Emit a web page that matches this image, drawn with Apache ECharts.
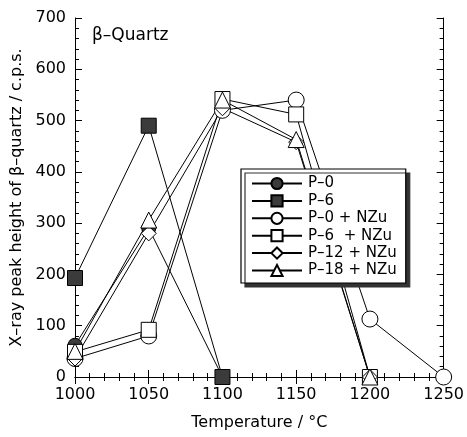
<!DOCTYPE html>
<html>
<head>
<meta charset="utf-8">
<script src="https://cdn.jsdelivr.net/npm/echarts@6/dist/echarts.min.js"></script>
<style>
  html, body { margin: 0; padding: 0; background: #fff; }
  #chart { width: 467px; height: 437px; }
</style>
</head>
<body>
<div id="chart"></div>
<script>
// temperatures (°C)
const temps = [1000, 1050, 1100, 1150, 1200, 1250];

// peak heights, c.p.s. (null = not measured)
const p0      = [62, 290, 0, null, null, null];
const p6      = [193, 490, 0, null, null, null];
const p0NZu   = [36, 80, 520, 540, 113, 0];
const p6NZu   = [49, 92, 542, 512, 0, null];
const p12NZu  = [36, 280, 524, 458, 0, null];
const p18NZu  = [50, 306, 540, 463, 0, null];

const seriesNames = ['P\u20130', 'P\u20136', 'P\u20130 + NZu', 'P\u20136  + NZu', 'P\u201312 + NZu', 'P\u201318 + NZu'];

const font = 'DejaVu Sans, sans-serif';
const dark = '#3b3b3b';

function pairs(vals) {
  return temps.map((t, i) => [t, vals[i]]).filter(d => d[1] !== null);
}

function mk(name, vals, symbol, filled, size) {
  return {
    name: name,
    type: 'line',
    data: pairs(vals),
    symbol: symbol,
    symbolSize: size,
    showAllSymbol: true,
    clip: false,
    lineStyle: { color: '#000', width: 1 },
    itemStyle: {
      color: filled ? dark : '#fff',
      borderColor: '#000',
      borderWidth: 1
    },
    emphasis: { disabled: true },
    animation: false
  };
}

const chart = echarts.init(document.getElementById('chart'));

const tickCommon = {
  axisLine: { show: true, lineStyle: { color: '#000', width: 1 } },
  axisTick: { show: true, inside: true, length: 7, lineStyle: { color: '#000' } },
  minorTick: { show: true, splitNumber: 5, length: 4, lineStyle: { color: '#000' } },
  splitLine: { show: false }
};

chart.setOption({
  backgroundColor: '#fff',
  textStyle: { fontFamily: font },
  grid: { left: 75, right: 23, top: 18, bottom: 60 },
  graphic: [{
    type: 'text',
    left: 92,
    top: 27,
    style: { text: '\u03b2\u2013Quartz', font: '17px ' + font, fill: '#000' }
  }],
  legend: {
    orient: 'vertical',
    left: 241,
    top: 169,
    padding: [7, 9, 5, 10],
    itemWidth: 50,
    itemHeight: 14,
    itemGap: 2.4,
    backgroundColor: '#fff',
    borderColor: '#000',
    borderWidth: 1.2,
    shadowColor: '#333',
    shadowOffsetX: 4,
    shadowOffsetY: 4,
    shadowBlur: 0,
    textStyle: { fontSize: 15, fontFamily: font, color: '#000', padding: [0, 0, 0, 1] },
    data: seriesNames
  },
  xAxis: [{
    type: 'value',
    min: 1000, max: 1250, interval: 50,
    name: 'Temperature / \u00b0C',
    nameLocation: 'middle',
    nameGap: 38,
    nameTextStyle: { fontSize: 16, fontFamily: font, color: '#000' },
    axisLabel: { fontSize: 16, color: '#000', margin: 10, fontFamily: font, formatter: v => String(v) },
    ...tickCommon
  }, {
    type: 'value',
    position: 'top',
    min: 1000, max: 1250, interval: 50,
    axisLabel: { show: false },
    ...tickCommon
  }],
  yAxis: [{
    type: 'value',
    min: 0, max: 700, interval: 100,
    name: 'X\u2013ray peak height of \u03b2\u2013quartz / c.p.s.',
    nameLocation: 'middle',
    nameGap: 42,
    nameTextStyle: { fontSize: 16, fontFamily: font, color: '#000' },
    axisLabel: { fontSize: 16, color: '#000', margin: 9, fontFamily: font },
    ...tickCommon
  }, {
    type: 'value',
    position: 'right',
    min: 0, max: 700, interval: 100,
    axisLabel: { show: false },
    ...tickCommon
  }],
  series: [
    mk(seriesNames[0], p0, 'circle', true, 14),
    mk(seriesNames[1], p6, 'rect', true, 15),
    mk(seriesNames[2], p0NZu, 'circle', false, 16),
    mk(seriesNames[3], p6NZu, 'rect', false, 15),
    mk(seriesNames[4], p12NZu, 'diamond', false, 15),
    mk(seriesNames[5], p18NZu, 'triangle', false, 16)
  ]
});
</script>
</body>
</html>
